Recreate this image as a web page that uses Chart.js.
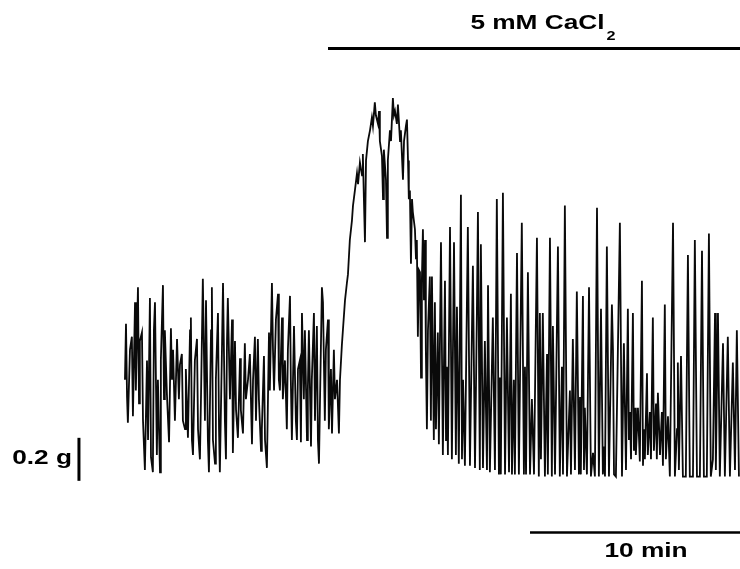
<!DOCTYPE html>
<html lang="en">
<head>
  <meta charset="UTF-8" />
  <title>CaCl2 contraction trace</title>
  <script src="https://cdn.jsdelivr.net/npm/chart.js"></script>
  <style>
    body { margin: 0; background: #fff; }
    #wrap { position: relative; width: 740px; height: 569px; }
  </style>
</head>
<body>
  <div id="wrap"><canvas id="traceChart"></canvas></div>

  <script>
    // trace: [time (min), force (g)]
    const baselineTrace = [
      [0.00,0.42],[0.05,0.68],[0.10,0.34],[0.14,0.22],[0.24,0.56],[0.33,0.62],[0.38,0.25],[0.48,0.78],[0.52,0.37],[0.62,0.85],
      [0.67,0.31],[0.71,0.60],[0.81,0.64],[0.86,0.23],[0.95,0.00],[1.05,0.51],[1.10,0.14],[1.19,0.80],[1.24,0.06],[1.33,-0.01],
      [1.38,0.65],[1.43,0.78],[1.52,0.07],[1.57,0.42],[1.67,-0.01],[1.71,0.51],[1.81,0.86],[1.86,0.33],[1.90,0.65],[2.00,0.35],
      [2.10,0.13],[2.19,0.66],[2.24,0.42],[2.29,0.56],[2.38,0.23],[2.48,0.61],[2.57,0.33],[2.62,0.49],[2.71,0.54],[2.76,0.23],
      [2.86,0.19],[2.90,0.47],[3.00,0.15],[3.10,0.65],[3.14,0.71],[3.19,0.14],[3.24,0.07],[3.33,0.51],[3.43,0.61],[3.48,0.19],
      [3.57,0.05],[3.62,0.33],[3.71,0.89],[3.81,0.23],[3.86,0.79],[3.95,0.14],[4.00,-0.01],[4.10,0.65],[4.14,0.85],[4.19,0.14],
      [4.29,0.03],[4.33,0.42],[4.43,0.73],[4.48,0.19],[4.52,-0.01],[4.62,0.56],[4.67,0.87],[4.76,0.23],[4.81,0.05],[4.86,0.60],
      [4.90,0.80],[5.00,0.33],[5.10,0.70],[5.14,0.08],[5.24,0.60],[5.29,0.28],[5.38,0.15],[5.48,0.52],[5.52,0.28],[5.62,0.17],
      [5.71,0.59],[5.76,0.33],[5.86,0.42],[5.95,0.54],[6.05,0.12],[6.10,0.42],[6.19,0.62],[6.24,0.23],[6.33,0.61],[6.38,0.33],
      [6.48,0.09],[6.52,0.19],[6.62,0.53],[6.67,0.14],[6.76,0.01],[6.86,0.64],[6.90,0.37],[7.00,0.87],[7.05,0.56],[7.10,0.37],
      [7.19,0.70],[7.29,0.82],[7.33,0.42],[7.38,0.37],[7.48,0.71],[7.52,0.33],[7.62,0.51],[7.71,0.19],[7.76,0.56],[7.86,0.81],
      [7.90,0.42],[7.95,0.14],[8.05,0.67],[8.14,0.23],[8.19,0.14],[8.24,0.47],[8.33,0.51],[8.38,0.13],[8.43,0.73],[8.52,0.33],
      [8.57,0.65],[8.67,0.14],[8.71,0.37],[8.76,0.65],[8.86,0.11],[8.90,0.42],[9.00,0.73],[9.05,0.23],[9.14,0.67],[9.19,0.14],
      [9.24,0.03],[9.29,0.33],[9.38,0.85],[9.43,0.78],[9.52,0.23],[9.57,0.56],[9.67,0.70],[9.71,0.19],[9.81,0.47],[9.86,0.17],
      [9.95,0.56],[10.00,0.33],[10.10,0.42],[10.19,0.17],[10.24,0.42]
    ];

    const calciumPeak = [
      [10.33,0.58],[10.38,0.65],[10.48,0.79],[10.57,0.87],[10.62,0.91],[10.71,1.07],[10.81,1.16],[10.86,1.23],[10.95,1.30],[11.05,1.38],
      [11.10,1.33],[11.19,1.43],[11.29,1.37],[11.33,1.47],[11.38,1.26],[11.43,1.06],[11.48,1.44],[11.57,1.53],[11.67,1.58],[11.76,1.64],
      [11.81,1.60],[11.90,1.71],[11.95,1.65],[12.05,1.61],[12.10,1.67],[12.14,1.53],[12.24,1.46],[12.29,1.26],[12.33,1.49],[12.43,1.35],
      [12.48,1.08],[12.52,1.44],[12.62,1.58],[12.67,1.53],[12.76,1.73],[12.81,1.65],[12.86,1.67],[12.95,1.61],[13.00,1.70],[13.10,1.53],
      [13.14,1.58],[13.24,1.35],[13.29,1.53],[13.38,1.60],[13.43,1.63],[13.48,1.44],[13.52,1.26],[13.57,1.30],[13.62,0.96],[13.67,1.26],
      [13.71,1.20],[13.81,1.12],[13.86,0.98],[13.90,1.07],[13.95,0.62],[14.00,0.93],[14.05,0.92],[14.10,0.43],[14.14,0.88],[14.19,1.12],
      [14.24,0.79],[14.29,1.07],[14.33,0.56],[14.38,0.19],[14.43,0.65],[14.52,0.90]
    ];

    const rhythmicTrace = [
      [14.57,0.23],[14.62,0.90],[14.71,0.14],[14.76,0.78],[14.81,0.19],[14.90,0.64],[14.95,0.12],[15.05,1.06],[15.14,0.07],[15.24,0.88],
      [15.29,0.14],[15.33,0.48],[15.38,0.07],[15.48,1.13],[15.57,0.05],[15.67,1.06],[15.76,0.07],[15.81,0.76],[15.90,0.03],[16.00,1.28],
      [16.05,0.05],[16.10,0.42],[16.19,0.02],[16.33,1.13],[16.43,0.02],[16.57,0.95],[16.67,0.01],[16.76,0.73],[16.81,1.20],[16.90,0.00],
      [16.95,1.05],[17.05,0.01],[17.14,0.60],[17.24,0.00],[17.29,0.86],[17.38,-0.01],[17.52,0.71],[17.62,0.00],[17.71,1.26],[17.81,-0.02],
      [17.86,0.43],[17.90,-0.02],[18.00,1.29],[18.10,-0.02],[18.19,0.71],[18.29,-0.01],[18.38,0.82],[18.43,-0.02],[18.52,0.42],[18.57,-0.02],
      [18.67,1.01],[18.76,-0.02],[18.90,1.15],[19.00,-0.02],[19.05,0.48],[19.10,-0.02],[19.19,0.92],[19.29,-0.02],[19.38,0.33],[19.48,-0.02],
      [19.62,1.08],[19.71,-0.03],[19.76,0.73],[19.81,0.05],[19.90,0.73],[20.00,-0.03],[20.10,0.54],[20.14,-0.02],[20.24,1.08],[20.33,-0.03],
      [20.38,0.67],[20.48,-0.02],[20.62,1.04],[20.71,-0.03],[20.81,0.48],[20.86,-0.02],[20.95,1.23],[21.05,-0.03],[21.19,0.37],[21.24,-0.02],
      [21.33,0.61],[21.43,0.00],[21.52,0.83],[21.62,-0.02],[21.67,0.34],[21.71,-0.02],[21.81,0.81],[21.86,0.00],[21.90,0.29],[22.00,-0.02],
      [22.10,0.85],[22.19,-0.03],[22.29,0.08],[22.38,-0.03],[22.48,1.22],[22.57,-0.03],[22.67,0.75],[22.76,-0.02],[22.81,0.11],[22.86,-0.03],
      [22.95,1.04],[23.05,-0.03],[23.19,0.77],[23.24,0.56],[23.29,-0.02],[23.38,-0.03],[23.57,1.15],[23.67,-0.03],[23.76,0.59],[23.86,0.00],
      [23.95,0.75],[24.00,0.14],[24.05,0.27],[24.10,0.05],[24.19,0.73],[24.24,0.09],[24.29,0.29],[24.33,0.07],[24.43,0.29],[24.52,0.04],
      [24.62,0.88],[24.67,0.02],[24.71,0.19],[24.76,0.05],[24.86,0.45],[24.90,0.07],[25.00,0.27],[25.05,0.05],[25.14,0.71],[25.19,0.09],
      [25.29,0.31],[25.33,0.05],[25.38,0.36],[25.48,0.07],[25.57,0.27],[25.62,0.02],[25.71,0.77],[25.76,0.05],[25.86,0.25],[25.95,-0.03],
      [26.10,1.15],[26.19,-0.03],[26.29,0.19],[26.33,0.50],[26.38,0.00],[26.48,0.53],[26.57,-0.03],[26.71,-0.03],[26.81,1.00],[26.90,-0.03],
      [27.05,-0.03],[27.14,1.07],[27.24,-0.03],[27.38,-0.03],[27.48,1.02],[27.57,-0.03],[27.71,-0.03],[27.81,1.10],[27.90,-0.03],[28.00,0.05],
      [28.10,0.73],[28.14,0.00],[28.24,0.73],[28.33,-0.03],[28.48,0.59],[28.57,-0.03],[28.71,0.62],[28.81,-0.03],[28.95,0.50],[29.05,0.00],
      [29.14,0.65],[29.24,-0.03]
    ];

    // calibration and annotation marks
    const calciumStart = 9.67;      // min, CaCl2 added
    const recordEnd = 29.29;        // min
    const calciumLevel = 1.96;      // g, height of the drug bar
    const timeBar = [19.29, 29.29]; // 10 min
    const timeBarLevel = -0.29;     // g
    const forceBar = [-0.05, 0.15]; // 0.2 g
    const forceBarTime = -2.19;     // min

    const fontFace = '"Liberation Sans", Arial, sans-serif';
    const stretch = 1.25;

    function stretchedText(ctx, text, px, py) {
      ctx.save();
      ctx.translate(px, py);
      ctx.scale(stretch, 1);
      ctx.fillText(text, 0, 0);
      ctx.restore();
    }

    function hLine(ctx, x0, x1, yy, w) {
      ctx.lineWidth = w;
      ctx.beginPath();
      ctx.moveTo(x0, yy);
      ctx.lineTo(x1, yy);
      ctx.stroke();
    }

    const annotations = {
      id: 'annotations',
      afterDraw(chart) {
        const { ctx, scales: { x, y } } = chart;
        ctx.save();
        ctx.strokeStyle = '#000';
        ctx.fillStyle = '#000';
        ctx.textAlign = 'left';
        ctx.textBaseline = 'alphabetic';

        // drug application bar + label
        const cx0 = x.getPixelForValue(calciumStart);
        const cx1 = x.getPixelForValue(recordEnd);
        const cy = y.getPixelForValue(calciumLevel);
        hLine(ctx, cx0, cx1, cy, 3);
        ctx.font = 'bold 21px ' + fontFace;
        const w1 = ctx.measureText('5 mM CaCl').width * stretch;
        ctx.font = 'bold 13px ' + fontFace;
        const w2 = ctx.measureText('2').width * stretch;
        const left = (cx0 + cx1) / 2 + 9 - (w1 + w2 + 2) / 2;
        ctx.font = 'bold 21px ' + fontFace;
        stretchedText(ctx, '5 mM CaCl', left, cy - 20);
        ctx.font = 'bold 13px ' + fontFace;
        stretchedText(ctx, '2', left + w1 + 2, cy - 9);

        // time calibration
        const tx0 = x.getPixelForValue(timeBar[0]);
        const tx1 = x.getPixelForValue(timeBar[1]);
        const ty = y.getPixelForValue(timeBarLevel);
        hLine(ctx, tx0, tx1, ty, 2.5);
        ctx.font = 'bold 21px ' + fontFace;
        const tw = ctx.measureText('10 min').width * stretch;
        stretchedText(ctx, '10 min', (tx0 + tx1) / 2 + 11 - tw / 2, ty + 25);

        // force calibration
        const fx = x.getPixelForValue(forceBarTime);
        const fy0 = y.getPixelForValue(forceBar[0]);
        const fy1 = y.getPixelForValue(forceBar[1]);
        ctx.lineWidth = 3;
        ctx.beginPath();
        ctx.moveTo(fx, fy0);
        ctx.lineTo(fx, fy1);
        ctx.stroke();
        const fw = ctx.measureText('0.2 g').width * stretch;
        stretchedText(ctx, '0.2 g', fx - 7 - fw, fy0 - 17);

        ctx.restore();
      }
    };

    const tracePoints = baselineTrace.concat(calciumPeak, rhythmicTrace)
      .map(p => ({ x: p[0], y: p[1] }));

    new Chart(document.getElementById('traceChart'), {
      type: 'line',
      data: {
        datasets: [{
          data: tracePoints,
          borderColor: '#0a0a0a',
          borderWidth: 1.8,
          pointRadius: 0,
          tension: 0
        }]
      },
      options: {
        responsive: true,
        maintainAspectRatio: false,
        animation: false,
        layout: { padding: 0 },
        plugins: { legend: { display: false }, tooltip: { enabled: false } },
        scales: {
          x: { type: 'linear', display: false, min: -5.95, max: 29.29 },
          y: { type: 'linear', display: false, min: -0.46, max: 2.186 }
        }
      },
      plugins: [annotations]
    });
  </script>
</body>
</html>
